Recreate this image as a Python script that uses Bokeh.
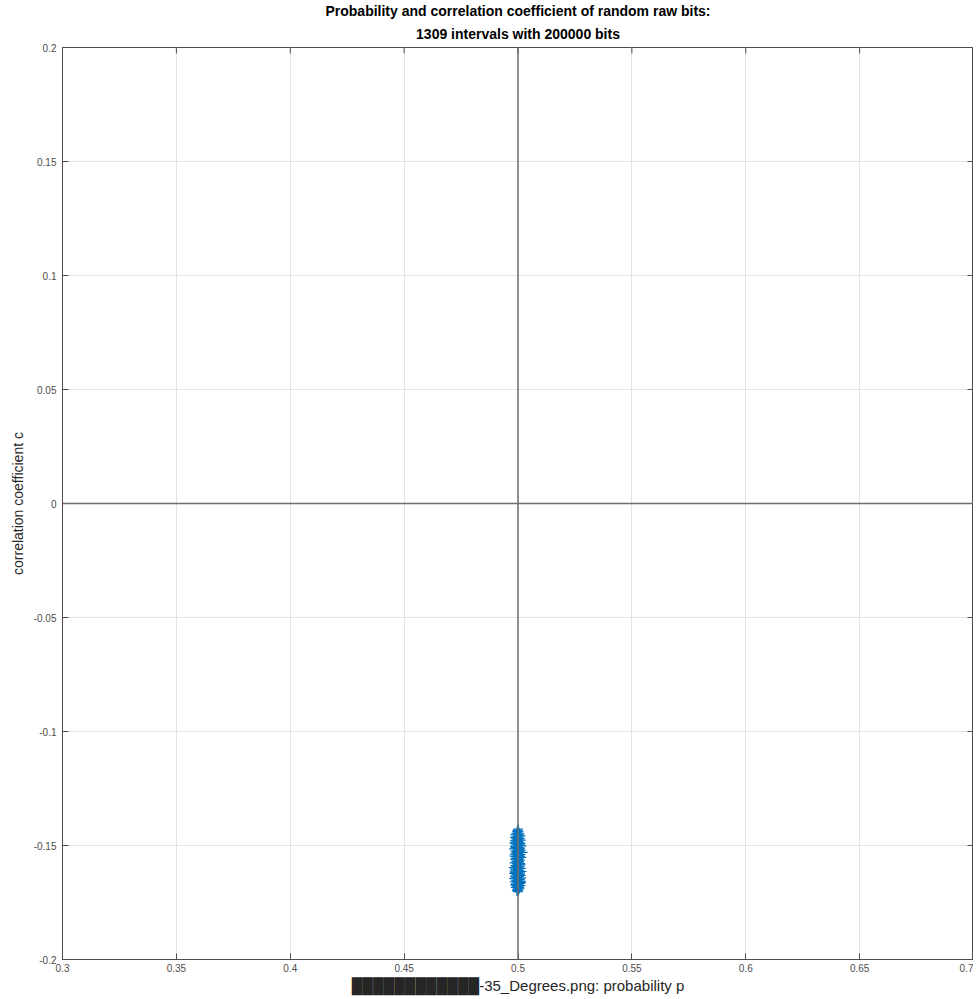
from bokeh.plotting import figure
from bokeh.models import Span, FixedTicker, Range1d, Title
from bokeh.embed import file_html
from bokeh.resources import INLINE

# probability p of each interval
p = [0.5000, 0.4998, 0.5003, 0.4994, 0.5006, 0.4989, 0.5001, 0.5010, 0.4996, 0.4986,
     0.5004, 0.4992, 0.5008, 0.4999, 0.5013, 0.4988, 0.5002, 0.4995, 0.5006, 0.4984,
     0.5011, 0.4998, 0.4991, 0.5004, 0.5015, 0.4987, 0.5000, 0.5008, 0.4994, 0.4983,
     0.5003, 0.5012, 0.4997, 0.4989, 0.5006, 0.5020, 0.4993, 0.5001, 0.4986, 0.5010,
     0.4998, 0.5005, 0.4990, 0.5014, 0.4996, 0.5002, 0.4988, 0.5008, 0.4999, 0.4993,
     0.5004,
     0.4985, 0.5010, 0.4997, 0.5003, 0.4989, 0.5007, 0.4994, 0.4982, 0.5012, 0.5000,
     0.4991, 0.5005, 0.4986, 0.5016, 0.4998, 0.5009, 0.4984, 0.5002, 0.4993, 0.5011,
     0.4987, 0.5004, 0.4996, 0.5013, 0.4983, 0.5001, 0.5008, 0.4990, 0.4997, 0.5006,
     0.4986, 0.5014, 0.4999, 0.4992, 0.5004, 0.4988, 0.5010, 0.4996, 0.5001, 0.4991,
     0.5006, 0.4998, 0.5003, 0.4995, 0.5000,
     0.4997, 0.5005, 0.4993, 0.5001, 0.5009, 0.4990, 0.5003, 0.4995, 0.5007, 0.4991,
     0.5000, 0.5005, 0.4996, 0.4992, 0.5006, 0.4988, 0.5001, 0.4995, 0.5007, 0.4990,
     0.5003, 0.4994, 0.5008, 0.4993, 0.5003, 0.4999, 0.4999, 0.5002, 0.4989, 0.5007,
     0.4996, 0.5004, 0.4985, 0.5011, 0.4987, 0.5011]

# correlation coefficient c of each interval
c = [-0.1428, -0.1435, -0.1440, -0.1446, -0.1449, -0.1452, -0.1455, -0.1458, -0.1461, -0.1463,
     -0.1466, -0.1469, -0.1471, -0.1474, -0.1477, -0.1479, -0.1482, -0.1485, -0.1487, -0.1490,
     -0.1492, -0.1495, -0.1497, -0.1500, -0.1502, -0.1505, -0.1507, -0.1510, -0.1512, -0.1515,
     -0.1517, -0.1520, -0.1522, -0.1525, -0.1527, -0.1530, -0.1532, -0.1535, -0.1538, -0.1540,
     -0.1543, -0.1546, -0.1549, -0.1552, -0.1555, -0.1558, -0.1561, -0.1564, -0.1567, -0.1570,
     -0.1573,
     -0.1576, -0.1579, -0.1582, -0.1585, -0.1588, -0.1591, -0.1594, -0.1597, -0.1600, -0.1603,
     -0.1606, -0.1609, -0.1612, -0.1614, -0.1617, -0.1620, -0.1622, -0.1625, -0.1628, -0.1631,
     -0.1634, -0.1636, -0.1639, -0.1642, -0.1644, -0.1647, -0.1650, -0.1652, -0.1655, -0.1658,
     -0.1660, -0.1662, -0.1665, -0.1668, -0.1670, -0.1673, -0.1676, -0.1678, -0.1681, -0.1684,
     -0.1687, -0.1690, -0.1694, -0.1698, -0.1702,
     -0.1438, -0.1457, -0.1476, -0.1489, -0.1498, -0.1509, -0.1524, -0.1536, -0.1548, -0.1556,
     -0.1562, -0.1569, -0.1578, -0.1590, -0.1598, -0.1604, -0.1611, -0.1620, -0.1627, -0.1638,
     -0.1645, -0.1657, -0.1666, -0.1675, -0.1684, -0.1695, -0.1450, -0.1470, -0.1486, -0.1514,
     -0.1528, -0.1541, -0.1546, -0.1585, -0.1618, -0.1656]

x_ticks = [0.3, 0.35, 0.4, 0.45, 0.5, 0.55, 0.6, 0.65, 0.7]
y_ticks = [-0.2, -0.15, -0.1, -0.05, 0, 0.05, 0.1, 0.15, 0.2]
x_labels = {0.3: "0.3", 0.35: "0.35", 0.4: "0.4", 0.45: "0.45", 0.5: "0.5",
            0.55: "0.55", 0.6: "0.6", 0.65: "0.65", 0.7: "0.7"}
y_labels = {-0.2: "-0.2", -0.15: "-0.15", -0.1: "-0.1", -0.05: "-0.05", 0: "0",
            0.05: "0.05", 0.1: "0.1", 0.15: "0.15", 0.2: "0.2"}

title_line1 = "Probability and correlation coefficient of random raw bits:"
title_line2 = "1309 intervals with 200000 bits"
xlabel = "\u2588" * 12 + "-35_Degrees.png: probability p"
ylabel = "correlation coefficient c"

FONT = "Liberation Sans"
AXC = "#4d4d4d"

X0, X1 = 0.3, 0.7
Y0, Y1 = -0.2, 0.2

p_fig = figure(frame_width=911, frame_height=912,
               x_range=Range1d(X0, X1), y_range=Range1d(Y0, Y1),
               output_backend="svg", toolbar_location=None,
               min_border_left=62, min_border_right=0, min_border_top=0, min_border_bottom=38,
               background_fill_color="white", border_fill_color="white")

# two title lines, each centred over the plot (first added sits closest to the frame)
for txt, sb in ((title_line2, 11), (title_line1, 0)):
    t = Title(text=txt, align="center", text_font=FONT, text_font_size="14px",
              text_font_style="bold", text_color="#000000", standoff=sb, offset=0)
    p_fig.add_layout(t, "above")

p_fig.outline_line_color = AXC
p_fig.outline_line_width = 1

def style_axis(ax, ticks, labs):
    ax.ticker = FixedTicker(ticks=ticks)
    ax.major_label_overrides = labs
    ax.major_tick_in = 6
    ax.major_tick_out = 0
    ax.minor_tick_in = 0
    ax.minor_tick_out = 0
    ax.axis_line_color = AXC
    ax.major_tick_line_color = AXC
    ax.major_label_text_font = FONT
    ax.major_label_text_font_size = "10px"
    ax.major_label_text_color = AXC
    ax.axis_label_text_font = FONT
    ax.axis_label_text_font_style = "normal"
    ax.axis_label_text_color = "#262626"

style_axis(p_fig.xaxis[0], x_ticks, x_labels)
style_axis(p_fig.yaxis[0], y_ticks, y_labels)

p_fig.xaxis[0].axis_label = xlabel
p_fig.xaxis[0].axis_label_text_font_size = "15px"
p_fig.xaxis[0].major_label_standoff = 4
p_fig.xaxis[0].axis_label_standoff = 2
p_fig.yaxis[0].axis_label = ylabel
p_fig.yaxis[0].axis_label_text_font_size = "14px"
p_fig.yaxis[0].major_label_standoff = 6
p_fig.yaxis[0].axis_label_standoff = 5

p_fig.xgrid.ticker = FixedTicker(ticks=x_ticks)
p_fig.ygrid.ticker = FixedTicker(ticks=y_ticks)
p_fig.xgrid.grid_line_color = "#e3e3e3"
p_fig.ygrid.grid_line_color = "#e3e3e3"

# inward tick marks on the top and right edges of the box
tick_dx = (X1 - X0) * 6 / 911
tick_dy = (Y1 - Y0) * 6 / 912
p_fig.segment(x0=x_ticks, y0=[Y1] * len(x_ticks), x1=x_ticks, y1=[Y1 - tick_dy] * len(x_ticks),
              line_color=AXC, line_width=1)
p_fig.segment(x0=[X1] * len(y_ticks), y0=y_ticks, x1=[X1 - tick_dx] * len(y_ticks), y1=y_ticks,
              line_color=AXC, line_width=1)

p_fig.add_layout(Span(location=0.5, dimension="height", line_color="#6e6e6e", line_width=1.5))
p_fig.add_layout(Span(location=0.0, dimension="width", line_color="#6e6e6e", line_width=1.5))

p_fig.scatter(p, c, marker="cross", size=10, line_color="#0072BD", line_width=1.2)

out = file_html(p_fig, INLINE)
open("out.html", "w").write(out)
